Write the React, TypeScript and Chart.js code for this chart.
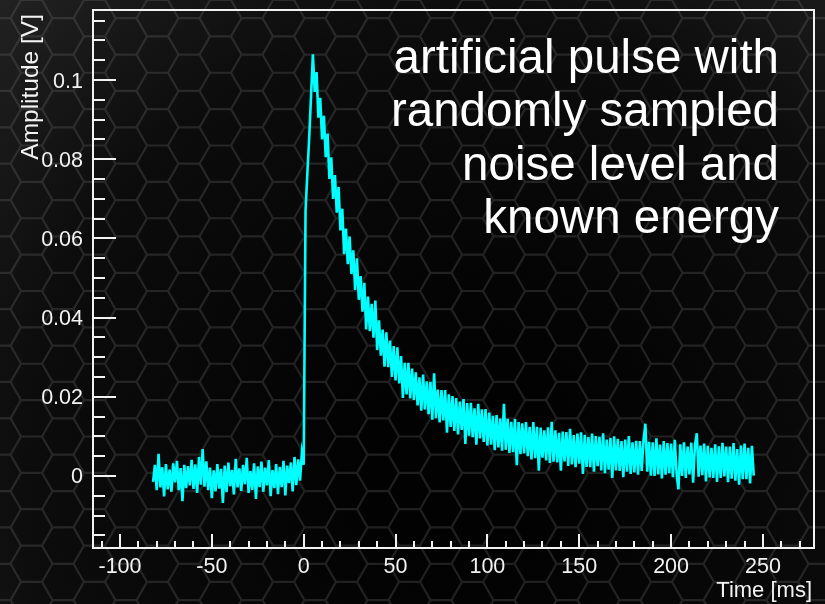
import { useEffect, useRef } from "react";
import { Chart, registerables } from "chart.js";

Chart.register(...registerables);

// Sampling of the recorded trace
const START_MS = -82;
const STEP_MS = 1;

// Pre-trigger baseline, t = -82 … -1 ms (mV)
const baselineMv = [
  -1.5, 2.8, -3.6, 5.6, -2.9, 2.2, -5.2, 3.0, -3.4, 1.6,
  -4.0, 3.2, -1.6, 3.8, -3.6, 2.0, -6.4, 2.8, -3.1, 2.5,
  -2.4, 4.1, -3.3, 2.9, -4.3, 4.8, -2.2, 6.8, -2.7, 3.7,
  -3.6, 2.1, -5.6, 1.4, -3.9, 3.0, -3.2, 1.8, -6.8, 2.6,
  -4.1, 3.4, -2.6, 1.5, -4.7, 4.3, -2.9, 1.9, -3.8, 2.8,
  -2.1, 4.6, -4.3, 1.3, -3.5, 3.2, -5.8, 2.4, -2.8, 3.6,
  -4.0, 2.1, -2.4, 4.0, -5.1, 1.5, -3.1, 3.0, -4.6, 2.3,
  -2.8, 3.8, -4.9, 2.6, -1.8, 3.4, -3.9, 4.8, -2.3, 4.2,
  -1.2, 5.9,
];

// Rise and fast decay, t = 0 … 60 ms (mV)
const pulseMv = [
  2.8, 67.0, 76.5, 85.5, 96.0, 106.5, 97.0, 102.0, 90.5, 95.5,
  85.0, 91.0, 80.5, 86.5, 75.0, 80.5, 70.0, 76.0, 66.5, 73.0,
  62.0, 67.5, 56.0, 62.5, 53.5, 60.5, 51.0, 57.0, 47.0, 55.0,
  44.5, 50.5, 41.5, 48.8, 37.0, 45.3, 36.6, 43.5, 34.9, 44.3,
  31.8, 39.3, 30.4, 37.0, 27.6, 36.3, 27.5, 34.2, 25.0, 32.8,
  24.1, 32.5, 23.4, 30.3, 19.7, 28.6, 20.6, 28.6, 19.6, 27.1,
  19.2,
];

// Slow tail, t = 61 … 245 ms (mV)
const tailMv = [
  26.2, 17.8, 24.9, 16.5, 25.6, 16.8, 23.9, 15.6, 23.8, 14.2,
  25.9, 14.6, 21.8, 13.5, 21.7, 14.0, 21.7, 10.9, 20.6, 12.4,
  20.2, 11.4, 19.7, 10.5, 18.8, 11.6, 19.4, 8.1, 18.4, 10.2,
  18.5, 9.8, 17.1, 7.9, 18.2, 9.5, 16.8, 8.6, 16.9, 7.7,
  16.0, 7.9, 15.2, 6.5, 15.4, 7.2, 14.5, 6.4, 18.2, 6.6,
  14.4, 5.8, 13.7, 6.0, 14.4, 2.7, 13.6, 5.5, 13.3, 5.7,
  13.6, 5.0, 12.4, 4.2, 13.6, 4.5, 12.4, 1.3, 12.2, 4.6,
  11.5, 3.9, 12.3, 3.3, 13.7, 3.6, 11.5, 3.4, 10.9, 1.3,
  11.2, 3.7, 11.1, 2.5, 11.9, 2.9, 10.3, 2.2, 10.7, 3.1,
  11.0, 0.5, 10.4, 2.3, 9.8, 2.2, 10.7, 1.1, 10.1, 2.5,
  9.9, 1.4, 10.8, 0.7, 9.2, 1.6, 9.6, -0.5, 10.0, 1.4,
  9.4, 1.3, 8.8, -0.3, 9.2, 1.1, 10.1, 0.5, 8.5, 0.9,
  8.9, 0.3, 8.8, 1.3, 9.2, 13.2, 1.1, 8.6, 0.1, 8.5,
  0.0, 9.5, 0.4, 7.9, -0.6, 8.8, 0.3, 8.3, 0.7, 8.2,
  -0.3, 9.1, 0.6, -3.4, 8.0, 0.0, 8.5, -0.5, 7.4, 0.4,
  8.4, -1.7, 7.8, 10.8, -0.2, 7.7, 0.2, 8.2, -1.4, 7.6,
  -0.4, 7.1, -0.5, 8.0, -1.5, 7.5, -0.5, 8.4, -0.1, 7.4,
  -1.6, 7.4, -0.7, 8.3, -1.2, 6.8, -2.2, 7.7, -0.8, 8.2,
  -0.8, 7.1, -1.9, 7.6, 0.1,
];

// Axis ranges
const X_MIN = -114.7;
const X_MAX = 277.8;
const Y_MIN = -0.0182;
const Y_MAX = 0.1177;

// Tick marks and labels
const xTickValues = [-100, -50, 0, 50, 100, 150, 200, 250];
const xTickLabels = ["-100", "-50", "0", "50", "100", "150", "200", "250"];
const yTickValues = [0, 0.02, 0.04, 0.06, 0.08, 0.1];
const yTickLabels = ["0", "0.02", "0.04", "0.06", "0.08", "0.1"];
const X_MINOR_STEP = 10;
const Y_MINOR_STEP = 0.005;

const xTitle = "Time [ms]";
const yTitle = "Amplitude [V]";
const noteLines = ["artificial pulse with", "randomly sampled", "noise level and", "known energy"];

const FONT = '"Liberation Sans", Arial, Helvetica, sans-serif';
const TRACE_COLOR = "#00ffff";
const W = 825;
const H = 604;

const tracePoints = [...baselineMv, ...pulseMv, ...tailMv].map((mv, i) => ({
  x: START_MS + i * STEP_MS,
  y: mv / 1000,
}));

// Dark honeycomb backdrop behind the whole canvas
const backdropPlugin = {
  id: "backdrop",
  beforeDraw(chart: any) {
    const ctx: CanvasRenderingContext2D = chart.ctx;
    const w = chart.width;
    const h = chart.height;
    ctx.save();
    const g = ctx.createRadialGradient(470, 460, 100, 470, 460, 720);
    g.addColorStop(0, "#020202");
    g.addColorStop(0.55, "#0c0c0c");
    g.addColorStop(1, "#282828");
    ctx.fillStyle = g;
    ctx.fillRect(0, 0, w, h);

    const s = 21;
    const hh = (s * Math.sqrt(3)) / 2;
    ctx.beginPath();
    for (let col = -1; col * 1.5 * s < w + 2 * s; col++) {
      const cx = col * 1.5 * s;
      const off = col % 2 ? hh : 0;
      for (let row = -1; row * 2 * hh < h + 2 * hh; row++) {
        const cy = row * 2 * hh + off;
        for (let k = 0; k <= 6; k++) {
          const a = (Math.PI / 3) * k;
          const px = cx + s * Math.cos(a);
          const py = cy + s * Math.sin(a);
          if (k === 0) ctx.moveTo(px, py);
          else ctx.lineTo(px, py);
        }
      }
    }
    ctx.filter = "blur(0.7px)";
    ctx.strokeStyle = "rgba(120,120,120,0.26)";
    ctx.lineWidth = 2.2;
    ctx.stroke();
    ctx.restore();
  },
};

// Frame, inward tick marks, labels and annotation
const framePlugin = {
  id: "frame",
  afterDraw(chart: any) {
    const ctx: CanvasRenderingContext2D = chart.ctx;
    const { left, right, top, bottom } = chart.chartArea;
    const xs = chart.scales.x;
    const ys = chart.scales.y;
    ctx.save();
    ctx.strokeStyle = "#f2f2f2";
    ctx.fillStyle = "#f2f2f2";
    ctx.lineWidth = 2;
    ctx.strokeRect(left, top, right - left, bottom - top);

    ctx.beginPath();
    const majorX = new Set(xTickValues);
    for (let v = Math.ceil(X_MIN / X_MINOR_STEP) * X_MINOR_STEP; v <= X_MAX; v += X_MINOR_STEP) {
      const px = Math.round(xs.getPixelForValue(v));
      const len = majorX.has(v) ? 14 : 7;
      ctx.moveTo(px, bottom);
      ctx.lineTo(px, bottom - len);
    }
    const yStart = Math.ceil(Y_MIN / Y_MINOR_STEP);
    for (let k = yStart; k * Y_MINOR_STEP <= Y_MAX; k++) {
      const v = k * Y_MINOR_STEP;
      const py = Math.round(ys.getPixelForValue(v));
      const len = k % 4 === 0 ? 23 : 12;
      ctx.moveTo(left, py);
      ctx.lineTo(left + len, py);
    }
    ctx.stroke();

    ctx.font = `21.5px ${FONT}`;
    ctx.textAlign = "center";
    ctx.textBaseline = "alphabetic";
    xTickValues.forEach((v, i) => {
      ctx.fillText(xTickLabels[i], xs.getPixelForValue(v), bottom + 25);
    });
    ctx.textAlign = "right";
    yTickValues.forEach((v, i) => {
      ctx.fillText(yTickLabels[i], left - 10, ys.getPixelForValue(v) + 7.5);
    });

    ctx.font = `22px ${FONT}`;
    ctx.textAlign = "right";
    ctx.fillText(xTitle, right - 2, H - 7);

    ctx.save();
    ctx.font = `24.5px ${FONT}`;
    ctx.translate(38, top + 4);
    ctx.rotate(-Math.PI / 2);
    ctx.textAlign = "right";
    ctx.fillText(yTitle, 0, 0);
    ctx.restore();

    ctx.fillStyle = "#ffffff";
    ctx.font = `47.5px ${FONT}`;
    ctx.textAlign = "right";
    noteLines.forEach((line, i) => {
      ctx.fillText(line, 779, 73 + i * 53.3);
    });
    ctx.restore();
  },
};

export default function App() {
  const canvasRef = useRef<HTMLCanvasElement | null>(null);

  useEffect(() => {
    const canvas = canvasRef.current;
    if (!canvas) return;
    const chart = new Chart(canvas, {
      type: "line",
      data: {
        datasets: [
          {
            data: tracePoints,
            borderColor: TRACE_COLOR,
            borderWidth: 2.6,
            borderJoinStyle: "miter",
            pointRadius: 0,
            tension: 0,
            fill: false,
          },
        ],
      },
      options: {
        animation: false,
        responsive: false,
        devicePixelRatio: 1,
        layout: { padding: { left: 93, right: W - 814, top: 10, bottom: H - 548 } },
        plugins: { legend: { display: false }, tooltip: { enabled: false } },
        scales: {
          x: { type: "linear", min: X_MIN, max: X_MAX, display: false },
          y: { type: "linear", min: Y_MIN, max: Y_MAX, display: false },
        },
      },
      plugins: [backdropPlugin, framePlugin],
    });
    return () => chart.destroy();
  }, []);

  return (
    <div style={{ position: "absolute", left: 0, top: 0, width: W, height: H }}>
      <canvas ref={canvasRef} width={W} height={H} style={{ display: "block" }} />
    </div>
  );
}
